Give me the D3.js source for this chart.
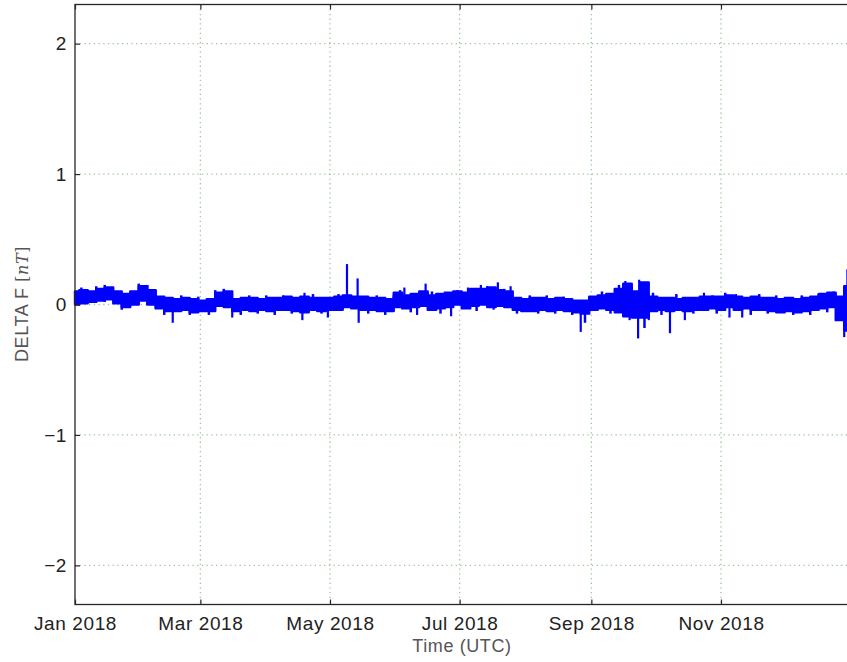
<!DOCTYPE html>
<html>
<head>
<meta charset="utf-8">
<script src="https://cdn.jsdelivr.net/npm/d3@7"></script>
<style>
  body { margin: 0; background: #fff; }
  svg { display: block; }
</style>
</head>
<body>
<div id="chart"></div>
<script>
var width = 847,
    height = 662;

// sample days since 2018-01-01 for the envelope of the trace
var sampleDays = [0, 4, 8, 12, 16, 20, 24, 28, 32, 36, 40, 44, 48, 52, 56, 60, 64, 68, 72, 76,
  80, 84, 88, 92, 96, 100, 104, 108, 112, 116, 120, 124, 128, 132, 136, 140, 144, 148, 152, 156,
  160, 164, 168, 172, 176, 180, 184, 188, 192, 196, 200, 204, 208, 212, 216, 220, 224, 228, 232, 236,
  240, 244, 248, 252, 256, 260, 264, 268, 272, 276, 280, 284, 288, 292, 296, 300, 304, 308, 312, 316,
  320, 324, 328, 332, 336, 340, 344, 348, 352, 356, 360, 364];
// upper edge of the trace (nT)
var upper = [0.10, 0.11, 0.10, 0.12, 0.13, 0.10, 0.08, 0.10, 0.14, 0.11, 0.06, 0.05, 0.04, 0.05, 0.04, 0.03, 0.04, 0.09, 0.10, 0.04,
  0.05, 0.05, 0.04, 0.05, 0.05, 0.06, 0.05, 0.06, 0.05, 0.05, 0.05, 0.06, 0.07, 0.06, 0.06, 0.05, 0.05, 0.04, 0.09, 0.07,
  0.08, 0.10, 0.07, 0.08, 0.09, 0.10, 0.09, 0.12, 0.12, 0.13, 0.11, 0.10, 0.05, 0.04, 0.05, 0.05, 0.04, 0.05, 0.04, 0.03,
  0.03, 0.06, 0.07, 0.08, 0.12, 0.16, 0.10, 0.17, 0.06, 0.05, 0.05, 0.04, 0.05, 0.05, 0.06, 0.06, 0.06, 0.07, 0.06, 0.05,
  0.06, 0.05, 0.05, 0.04, 0.05, 0.04, 0.05, 0.06, 0.08, 0.09, 0.06, 0.14];
// lower edge of the trace (nT)
var lower = [0.00, 0.01, 0.02, 0.03, 0.04, 0.01, -0.02, 0.00, 0.03, 0.00, -0.03, -0.05, -0.05, -0.04, -0.06, -0.05, -0.05, -0.01, -0.02, -0.05,
  -0.04, -0.05, -0.04, -0.05, -0.04, -0.04, -0.05, -0.06, -0.04, -0.05, -0.04, -0.04, -0.02, -0.03, -0.04, -0.04, -0.05, -0.05, -0.02, -0.03,
  -0.02, -0.01, -0.04, -0.03, -0.02, 0.00, -0.03, -0.01, 0.00, -0.02, -0.01, -0.02, -0.04, -0.05, -0.05, -0.04, -0.05, -0.04, -0.05, -0.06,
  -0.07, -0.04, -0.03, -0.04, -0.06, -0.09, -0.10, -0.10, -0.05, -0.04, -0.05, -0.04, -0.05, -0.04, -0.04, -0.03, -0.04, -0.02, -0.04, -0.03,
  -0.04, -0.04, -0.05, -0.06, -0.05, -0.06, -0.05, -0.04, -0.03, -0.02, -0.12, -0.20];
// isolated spikes: day and peak value (nT)
var spikeDays = [46, 74, 107, 108, 119, 128, 133, 133.5, 155, 161, 165, 177, 191, 197, 199, 205, 238,
  259, 261, 265, 265.5, 270, 280, 287, 296, 308, 314, 357, 362, 363.5, 364.5];
var spikeValues = [-0.14, -0.10, -0.12, 0.09, -0.10, 0.31, 0.20, -0.14, 0.13, -0.08, 0.16, -0.09, 0.15, -0.04, 0.17, 0.14, -0.21,
  0.18, -0.12, -0.26, 0.19, -0.12, -0.22, -0.12, 0.09, -0.10, -0.10, 0.10, -0.25, 0.27, -0.30];
// smaller excursions along the edges of the trace
var minorDays = [3, 10, 14, 22, 30, 34, 38, 42, 50, 54, 58, 63, 66, 70, 78, 82, 86, 90, 94, 98,
  102, 112, 116, 124, 138, 142, 146, 150, 153, 158, 168, 172, 180, 185, 189, 194, 202, 208, 214, 218,
  222, 226, 230, 234, 240, 248, 252, 256, 262, 268, 272, 276, 283, 291, 300, 302, 306, 311, 318, 322,
  326, 330, 338, 342, 346, 350, 354];
var minorValues = [0.13, 0.14, 0.15, -0.04, 0.16, 0.15, -0.03, -0.08, 0.07, -0.08, 0.06, -0.08, 0.11, 0.12, -0.08, 0.07, -0.07, 0.07, -0.08, 0.07,
  -0.07, 0.08, -0.07, 0.08, -0.07, 0.07, -0.08, 0.07, 0.11, -0.06, 0.10, -0.07, 0.11, 0.13, -0.05, 0.14, 0.12, -0.07, 0.07, -0.07,
  0.07, -0.07, 0.06, -0.08, -0.14, 0.10, -0.07, 0.15, 0.14, -0.18, 0.09, -0.08, 0.08, -0.07, 0.07, -0.07, 0.09, 0.08, -0.08, 0.08,
  -0.07, 0.07, -0.08, 0.07, -0.08, 0.08, -0.06];

var xTicks = ["2018-01-01", "2018-03-01", "2018-05-01", "2018-07-01", "2018-09-01", "2018-11-01"];
var yTicks = [-2, -1, 0, 1, 2];

var start = Date.UTC(2018, 0, 1);
function dayToDate(d) { return new Date(start + d * 864e5); }

var x = d3.scaleUtc()
    .domain([new Date(Date.UTC(2018, 0, 1)), new Date(Date.UTC(2019, 0, 1))])
    .range([75, 850.6]);
var y = d3.scaleLinear()
    .domain([-2.3, 2.3])
    .range([604.5, 4.5]);

var svg = d3.select("#chart").append("svg")
    .attr("width", width)
    .attr("height", height);

var band = sampleDays.map(function (d, i) {
    return {date: dayToDate(d), hi: upper[i], lo: lower[i]};
});

// grid
var grid = svg.append("g").attr("class", "grid");
grid.selectAll("line.gx")
    .data(xTicks.slice(1))
    .enter().append("line")
    .attr("x1", function (d) { return x(new Date(d)); })
    .attr("x2", function (d) { return x(new Date(d)); })
    .attr("y1", y(2.3))
    .attr("y2", y(-2.3));
grid.selectAll("line.gy")
    .data(yTicks)
    .enter().append("line")
    .attr("x1", x.range()[0])
    .attr("x2", x.range()[1])
    .attr("y1", function (d) { return y(d); })
    .attr("y2", function (d) { return y(d); });
grid.selectAll("line")
    .style("stroke", "#7ab57a")
    .style("stroke-width", 1.3)
    .style("stroke-dasharray", "1.3,3.4")
    .style("opacity", 0.75);

// trace
var area = d3.area()
    .curve(d3.curveStep)
    .x(function (d) { return x(d.date); })
    .y0(function (d) { return y(d.lo); })
    .y1(function (d) { return y(d.hi); });
svg.append("path")
    .datum(band)
    .attr("d", area)
    .style("fill", "#0000ff")
    .style("stroke", "#0000ff")
    .style("stroke-width", 2.4)
    .style("stroke-linejoin", "round");

function drawSpikes(days, values, cls, w) {
    svg.selectAll("line." + cls)
        .data(days)
        .enter().append("line")
        .attr("class", cls)
        .attr("x1", function (d) { return x(dayToDate(d)); })
        .attr("x2", function (d) { return x(dayToDate(d)); })
        .attr("y1", y(0.02))
        .attr("y2", function (d, i) { return y(values[i]); })
        .style("stroke", "#0000ff")
        .style("stroke-width", w);
}
drawSpikes(minorDays, minorValues, "minor", 2.5);
drawSpikes(spikeDays, spikeValues, "spike", 2.2);

// frame
svg.append("rect")
    .attr("x", x.range()[0])
    .attr("y", y(2.3))
    .attr("width", x.range()[1] - x.range()[0])
    .attr("height", y(-2.3) - y(2.3))
    .style("fill", "none")
    .style("stroke", "#262626")
    .style("stroke-width", 1.3);

// axes with inward ticks
var xAxis = svg.append("g")
    .attr("transform", "translate(0," + y(-2.3) + ")")
    .call(d3.axisBottom(x)
        .tickValues(xTicks.map(function (d) { return new Date(d); }))
        .tickFormat(d3.utcFormat("%b %Y"))
        .tickSize(-5)
        .tickPadding(12));
var xTop = svg.append("g")
    .attr("transform", "translate(0," + y(2.3) + ")")
    .call(d3.axisTop(x)
        .tickValues(xTicks.map(function (d) { return new Date(d); }))
        .tickFormat("")
        .tickSize(-5));
var yAxis = svg.append("g")
    .attr("transform", "translate(" + x.range()[0] + ",0)")
    .call(d3.axisLeft(y)
        .tickValues(yTicks)
        .tickFormat(d3.format("d"))
        .tickSize(-5)
        .tickPadding(8));

[xAxis, xTop, yAxis].forEach(function (g) {
    g.select(".domain").remove();
    g.selectAll(".tick line").style("stroke", "#262626").style("stroke-width", 1.2);
    g.selectAll("text")
        .style("font-family", "'Liberation Sans', Arial, sans-serif")
        .style("font-size", "19px")
        .style("letter-spacing", "0.6px")
        .style("fill", "#222");
});

// labels
svg.append("text")
    .attr("x", 462)
    .attr("y", 652)
    .attr("text-anchor", "middle")
    .style("font-family", "'Liberation Sans', Arial, sans-serif")
    .style("font-size", "18px")
    .style("letter-spacing", "0.6px")
    .style("fill", "#555")
    .text("Time (UTC)");

var yl = svg.append("text")
    .attr("transform", "translate(28,304) rotate(-90)")
    .attr("text-anchor", "middle")
    .style("font-family", "'Liberation Sans', Arial, sans-serif")
    .style("font-size", "18px")
    .style("letter-spacing", "0.6px")
    .style("fill", "#555");
yl.append("tspan").text("DELTA F ");
yl.append("tspan").style("font-family", "'DejaVu Serif', serif").style("font-size", "16px").text("[");
yl.append("tspan").style("font-family", "'DejaVu Serif', serif").style("font-style", "italic").style("font-size", "16px").text("nT");
yl.append("tspan").style("font-family", "'DejaVu Serif', serif").style("font-size", "16px").text("]");
</script>
</body>
</html>
